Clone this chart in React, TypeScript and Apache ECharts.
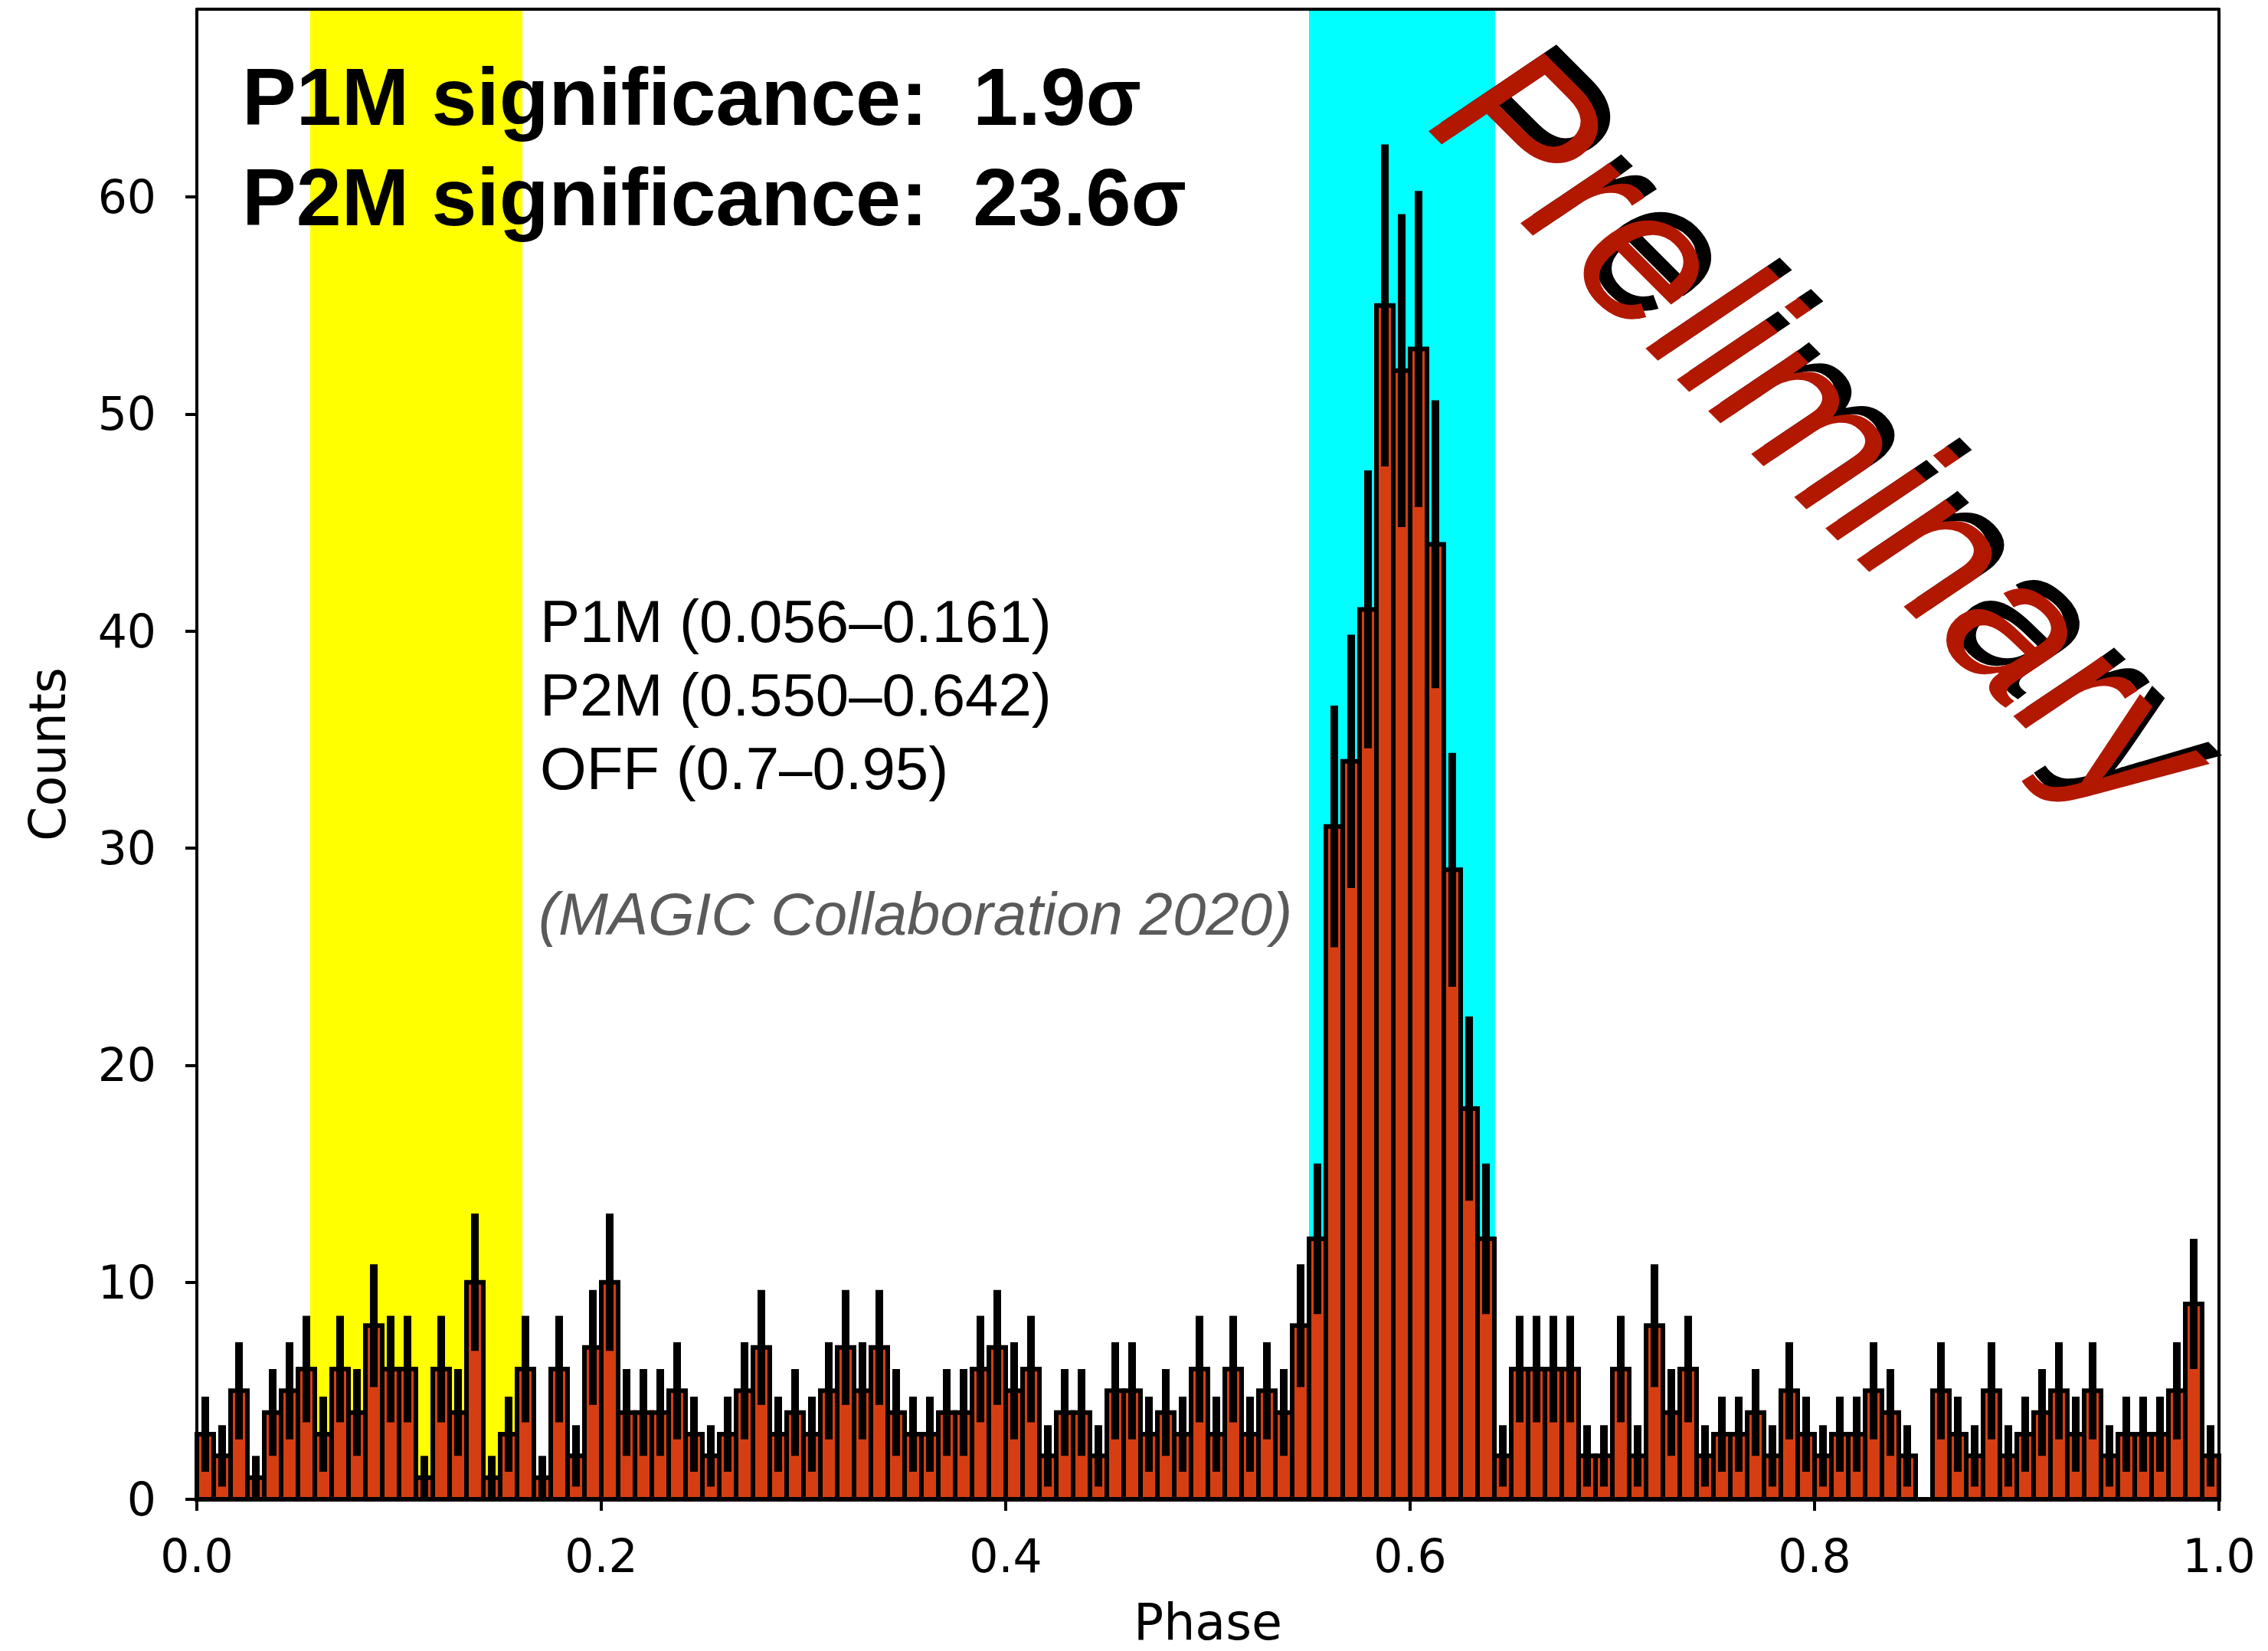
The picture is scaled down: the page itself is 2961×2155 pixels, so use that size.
import React, { useEffect, useRef } from "react";
import * as echarts from "echarts";

// Canvas size
const W = 2961;
const H = 2155;

// Phasogram: 120 equal phase bins over [0, 1]
const BIN_COUNT = 120;
const counts = [
  3, 2, 5, 1, 4, 5, 6, 3, 6, 4, 8, 6, 6, 1, 6,
  4, 10, 1, 3, 6, 1, 6, 2, 7, 10, 4, 4, 4, 5, 3,
  2, 3, 5, 7, 3, 4, 3, 5, 7, 5, 7, 4, 3, 3, 4,
  4, 6, 7, 5, 6, 2, 4, 4, 2, 5, 5, 3, 4, 3, 6,
  3, 6, 3, 5, 4, 8, 12,
  31, 34, 41, 55, 52, 53, 44, 29, 18, 12,
  2, 6, 6, 6, 6, 2, 2, 6, 2, 8, 4, 6, 2, 3,
  3, 4, 2, 5, 3, 2, 3, 3, 5, 4, 2, 0, 5, 3, 2,
  5, 2, 3, 4, 5, 3, 5, 2, 3, 3, 3, 5, 9, 2,
];

// Signal phase windows (P1M, P2M)
const bandStarts = [0.056, 0.55];
const bandEnds = [0.161, 0.642];
const bandColors = ["#ffff00", "#00ffff"];

// Axis ticks
const yTicks = [0, 10, 20, 30, 40, 50, 60];
const X_MIN = 0;
const X_MAX = 1;
const X_STEP = 0.2;
const Y_MAX = 68.65;

// Annotations
const significanceLines = [
  "P1M significance:\u00a0 1.9σ",
  "P2M significance:\u00a0 23.6σ",
];
const windowLines = ["P1M (0.056–0.161)", "P2M (0.550–0.642)", "OFF (0.7–0.95)"];
const creditLine = "(MAGIC Collaboration 2020)";
const watermark = "Preliminary";

const BAR_FILL = "#d53e12";
const TICK_FONT = "DejaVu Sans";
const TEXT_FONT = "Liberation Sans";

const barData = counts.map((c, i) => [i / BIN_COUNT, (i + 1) / BIN_COUNT, c]);
const errData = counts.map((c, i) => [
  (i + 0.5) / BIN_COUNT,
  c - Math.sqrt(c),
  c + Math.sqrt(c),
]);
const bandData = bandStarts.map((s, i) => [s, bandEnds[i]]);

function buildOption(): echarts.EChartsCoreOption {
  const textEl = (
    text: string,
    x: number,
    y: number,
    font: string,
    fill: string,
    extra: Record<string, unknown> = {}
  ) => ({
    type: "text",
    x,
    y,
    z: 100,
    silent: true,
    ...extra,
    style: {
      text,
      font,
      fill,
      align: "left",
      textAlign: "left",
      verticalAlign: "middle",
      textVerticalAlign: "middle",
    },
  });

  const graphics: any[] = [];
  significanceLines.forEach((t, i) => {
    graphics.push(textEl(t, 316, 126 + i * 131, `bold 106px '${TEXT_FONT}'`, "#000"));
  });
  windowLines.forEach((t, i) => {
    graphics.push(textEl(t, 705, 811 + i * 96, `78px '${TEXT_FONT}'`, "#000"));
  });
  graphics.push(textEl(creditLine, 703, 1193, `italic 78px '${TEXT_FONT}'`, "#5a5a5a"));
  // watermark with a dark offset copy underneath
  graphics.push(
    textEl(watermark, 1939, 91, `italic 260px '${TEXT_FONT}'`, "#000", {
      rotation: -Math.PI / 4,
      z: 99,
    })
  );
  graphics.push(
    textEl(watermark, 1923, 102, `italic 260px '${TEXT_FONT}'`, "#b21800", {
      rotation: -Math.PI / 4,
    })
  );

  return {
    animation: false,
    backgroundColor: "#ffffff",
    grid: {
      left: 257,
      right: W - 2897,
      top: 12,
      bottom: H - 1957,
      containLabel: false,
      outerBoundsMode: "none",
    },
    xAxis: [
      {
        type: "value",
        min: X_MIN,
        max: X_MAX,
        interval: X_STEP,
        position: "bottom",
        z: 10,
        axisLine: { show: true, onZero: false, lineStyle: { color: "#000", width: 4 } },
        axisTick: { show: true, inside: false, length: 15, lineStyle: { color: "#000", width: 4 } },
        axisLabel: {
          show: true,
          margin: 44,
          color: "#000",
          fontFamily: TICK_FONT,
          fontSize: 60,
          formatter: (v: number) => v.toFixed(1),
        },
        splitLine: { show: false },
        name: "Phase",
        nameLocation: "middle",
        nameGap: 128,
        nameTextStyle: { fontFamily: TICK_FONT, fontSize: 65, color: "#000" },
      },
      {
        type: "value",
        min: X_MIN,
        max: X_MAX,
        position: "top",
        z: 10,
        axisLine: { show: true, onZero: false, lineStyle: { color: "#000", width: 4 } },
        axisTick: { show: false },
        axisLabel: { show: false },
        splitLine: { show: false },
      },
    ],
    yAxis: [
      {
        type: "value",
        min: 0,
        max: Y_MAX,
        position: "left",
        z: 10,
        axisLine: { show: true, onZero: false, lineStyle: { color: "#000", width: 4 } },
        axisTick: {
          show: true,
          inside: false,
          length: 15,
          customValues: yTicks,
          lineStyle: { color: "#000", width: 4 },
        },
        axisLabel: {
          show: true,
          margin: 53,
          color: "#000",
          fontFamily: TICK_FONT,
          fontSize: 60,
          customValues: yTicks,
          formatter: (v: number) => String(Math.round(v)),
        },
        splitLine: { show: false },
        name: "Counts",
        nameLocation: "middle",
        nameRotate: 90,
        nameGap: 162,
        nameTextStyle: { fontFamily: TICK_FONT, fontSize: 65, color: "#000" },
      },
      {
        type: "value",
        min: 0,
        max: Y_MAX,
        position: "right",
        z: 10,
        axisLine: { show: true, onZero: false, lineStyle: { color: "#000", width: 4 } },
        axisTick: { show: false },
        axisLabel: { show: false },
        splitLine: { show: false },
      },
    ],
    series: [
      {
        type: "custom",
        name: "windows",
        z: 1,
        silent: true,
        xAxisIndex: 0,
        yAxisIndex: 0,
        encode: { x: [0, 1] },
        data: bandData,
        renderItem: (params: any, api: any) => {
          const a = api.coord([api.value(0), Y_MAX]);
          const b = api.coord([api.value(1), 0]);
          return {
            type: "rect",
            shape: { x: a[0], y: a[1], width: b[0] - a[0], height: b[1] - a[1] },
            style: { fill: bandColors[params.dataIndex] },
          };
        },
      },
      {
        type: "custom",
        name: "counts",
        z: 2,
        silent: true,
        xAxisIndex: 0,
        yAxisIndex: 0,
        encode: { x: [0, 1], y: 2 },
        data: barData,
        renderItem: (_params: any, api: any) => {
          const a = api.coord([api.value(0), api.value(2)]);
          const b = api.coord([api.value(1), 0]);
          return {
            type: "rect",
            shape: { x: a[0], y: a[1], width: b[0] - a[0], height: b[1] - a[1] },
            style: { fill: BAR_FILL, stroke: "#000", lineWidth: 6 },
          };
        },
      },
      {
        type: "custom",
        name: "errors",
        z: 3,
        silent: true,
        xAxisIndex: 0,
        yAxisIndex: 0,
        encode: { x: 0, y: [1, 2] },
        data: errData,
        renderItem: (_params: any, api: any) => {
          const lo = api.coord([api.value(0), api.value(1)]);
          const hi = api.coord([api.value(0), api.value(2)]);
          return {
            type: "line",
            shape: { x1: lo[0], y1: lo[1], x2: hi[0], y2: hi[1] },
            style: { stroke: "#000", lineWidth: 10, lineCap: "butt" },
          };
        },
      },
    ],
    graphic: graphics,
  };
}

export default function App() {
  const ref = useRef<HTMLDivElement>(null);
  useEffect(() => {
    document.body.style.margin = "0";
    if (!ref.current) return;
    const chart = echarts.init(ref.current, undefined, {
      renderer: "svg",
      width: W,
      height: H,
    });
    chart.setOption(buildOption());
    return () => chart.dispose();
  }, []);
  return <div ref={ref} style={{ width: W, height: H, background: "#fff" }} />;
}
